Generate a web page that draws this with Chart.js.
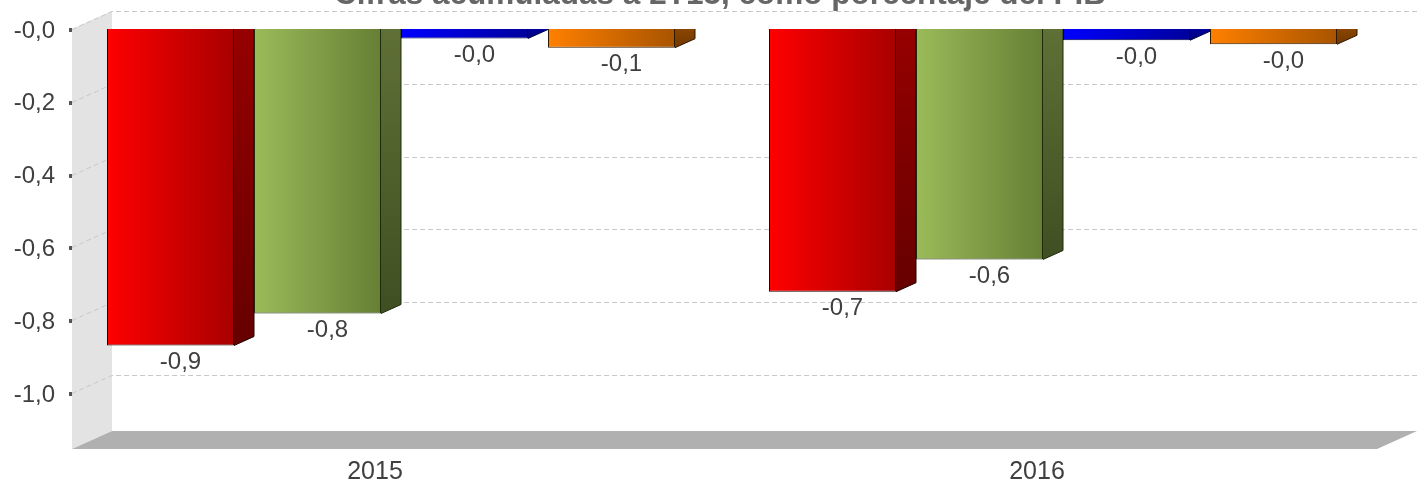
<!DOCTYPE html>
<html><head><meta charset="utf-8">
<style>html,body{margin:0;padding:0;background:#fff}#w{position:relative;width:1417px;height:479px}</style>
<script src="https://cdn.jsdelivr.net/npm/chart.js@4"></script>
</head><body><div id="w"><canvas id="c" width="1417" height="479"></canvas></div>
<script>
const categories = ['2015', '2016'];
const seriesNames = ['A', 'B', 'C', 'D'];
const redValues = [-0.8695, -0.7217];
const greenValues = [-0.7816, -0.6332];
const blueValues = [-0.026, -0.031];
const orangeValues = [-0.0514, -0.042];
const yTicks = [0, -0.2, -0.4, -0.6, -0.8, -1.0];
const yTickLabels = ['-0,0', '-0,2', '-0,4', '-0,6', '-0,8', '-1,0'];
const yMin = -1.1538;
const titleText = 'Cifras acumuladas a 2T15, como porcentaje del PIB';
const frontColors = [['#ff0000', '#a80000'], ['#9bbb59', '#667f35'], ['#0000ff', '#00009c'], ['#ff8000', '#a85400']];
const sideColors = [['#960000', '#660000'], ['#5f7036', '#3f4f22'], ['#00009c', '#000080'], ['#8a4500', '#703800']];
const strokeColors = ['#200000', '#1f2a0a', '#000040', '#2e1800'];
const font = 'Liberation Sans, Arial, sans-serif';
const DX = 20, DY = 9;
const catPct = 588 / 662, barPct = 127 / 147;
const fmt = v => v.toFixed(1).replace('.', ',');

function frontFill(c, i) {
  const xs = c.chart.scales.x;
  if (!xs || c.dataIndex === undefined) return frontColors[i][0];
  const center = xs.getPixelForTick(c.dataIndex);
  const pitch = (xs.width / categories.length) * catPct / seriesNames.length;
  const w = pitch * barPct, cx = center + (i - 1.5) * pitch;
  if (!isFinite(cx) || !isFinite(w)) return frontColors[i][0];
  const g = c.chart.ctx.createLinearGradient(cx - w / 2, 0, cx + w / 2, 0);
  g.addColorStop(0, frontColors[i][0]); g.addColorStop(1, frontColors[i][1]);
  return g;
}
const scene = {
  id: 'scene',
  beforeDatasetsDraw(chart) {
    const { ctx, scales: { x, y } } = chart;
    const L = 72, R = 1377, B = y.getPixelForValue(yMin), T0 = y.getPixelForValue(0);
    const wx = 40, wy = 18;
    ctx.save();
    ctx.fillStyle = '#e3e3e3';
    ctx.beginPath();
    ctx.moveTo(L, T0); ctx.lineTo(L + wx, T0 - wy); ctx.lineTo(L + wx, B - wy); ctx.lineTo(L, B); ctx.closePath(); ctx.fill();
    ctx.fillStyle = '#b0b0b0';
    ctx.beginPath();
    ctx.moveTo(L, B); ctx.lineTo(L + wx, B - wy); ctx.lineTo(R + wx, B - wy); ctx.lineTo(R, B); ctx.closePath(); ctx.fill();
    ctx.strokeStyle = '#c8c8c8'; ctx.lineWidth = 1; ctx.setLineDash([5, 3]);
    yTicks.forEach(t => {
      const p = Math.round(y.getPixelForValue(t)) + 0.5;
      ctx.beginPath(); ctx.moveTo(L, p); ctx.lineTo(L + wx, p - wy); ctx.lineTo(R + wx, p - wy); ctx.stroke();
    });
    ctx.setLineDash([]);
    ctx.fillStyle = '#555';
    yTicks.forEach(t => { const p = Math.round(y.getPixelForValue(t)); ctx.fillRect(69, p - 1, 3, 4); });
    chart.data.datasets.forEach((ds, i) => {
      chart.getDatasetMeta(i).data.forEach(el => {
        const r = el.x + el.width / 2, b = el.y, t = el.base;
        const g = ctx.createLinearGradient(0, t, 0, Math.max(b, t + 1));
        g.addColorStop(0, sideColors[i][0]); g.addColorStop(1, sideColors[i][1]);
        ctx.fillStyle = g; ctx.strokeStyle = strokeColors[i]; ctx.lineWidth = 1;
        ctx.beginPath();
        ctx.moveTo(r, t); ctx.lineTo(r + DX, t); ctx.lineTo(r + DX, Math.max(t, b - DY)); ctx.lineTo(r, b); ctx.closePath();
        ctx.fill();
        ctx.beginPath();
        ctx.moveTo(r + DX, t); ctx.lineTo(r + DX, Math.max(t, b - DY)); ctx.lineTo(r, b);
        ctx.stroke();
      });
    });
    ctx.restore();
  },
  afterDatasetsDraw(chart) {
    const { ctx } = chart;
    ctx.save();
    ctx.fillStyle = '#3f3f3f'; ctx.font = '24px ' + font; ctx.textAlign = 'center'; ctx.textBaseline = 'top';
    chart.data.datasets.forEach((ds, i) => {
      chart.getDatasetMeta(i).data.forEach((el, j) => {
        ctx.fillText(fmt(ds.data[j]), el.x + DX / 2, el.y + 5);
      });
    });
    ctx.fillStyle = '#666666'; ctx.font = 'bold 31.5px ' + font; ctx.textBaseline = 'alphabetic';
    ctx.fillText(titleText, 720, 4);
    ctx.restore();
  }
};
const dataArrays = [redValues, greenValues, blueValues, orangeValues];
new Chart(document.getElementById('c'), {
  type: 'bar',
  data: {
    labels: categories,
    datasets: dataArrays.map((d, i) => ({
      label: seriesNames[i], data: d,
      backgroundColor: c => frontFill(c, i),
      borderColor: strokeColors[i], borderWidth: 1,
      categoryPercentage: catPct, barPercentage: barPct
    }))
  },
  plugins: [scene],
  options: {
    responsive: false, animation: false,
    layout: { padding: { top: 29, right: 33, left: 0, bottom: 0 } },
    plugins: { legend: { display: false }, title: { display: false }, tooltip: { enabled: false } },
    scales: {
      x: {
        position: 'bottom',
        grid: { display: false, drawTicks: false }, border: { display: false },
        afterFit(a) { a.height = 30; },
        ticks: { color: '#3f3f3f', font: { family: font, size: 25 }, labelOffset: -16, padding: 8, maxRotation: 0 }
      },
      y: {
        min: yMin, max: 0,
        afterFit(a) { a.width = 60; },
        afterBuildTicks(a) { a.ticks = yTicks.map(v => ({ value: v })); },
        grid: { display: false, drawTicks: false }, border: { display: false },
        ticks: { color: '#3f3f3f', font: { family: font, size: 24 }, padding: 5, labelOffset: 2, callback: (v, idx) => yTickLabels[idx] }
      }
    }
  }
});
</script></body></html>
